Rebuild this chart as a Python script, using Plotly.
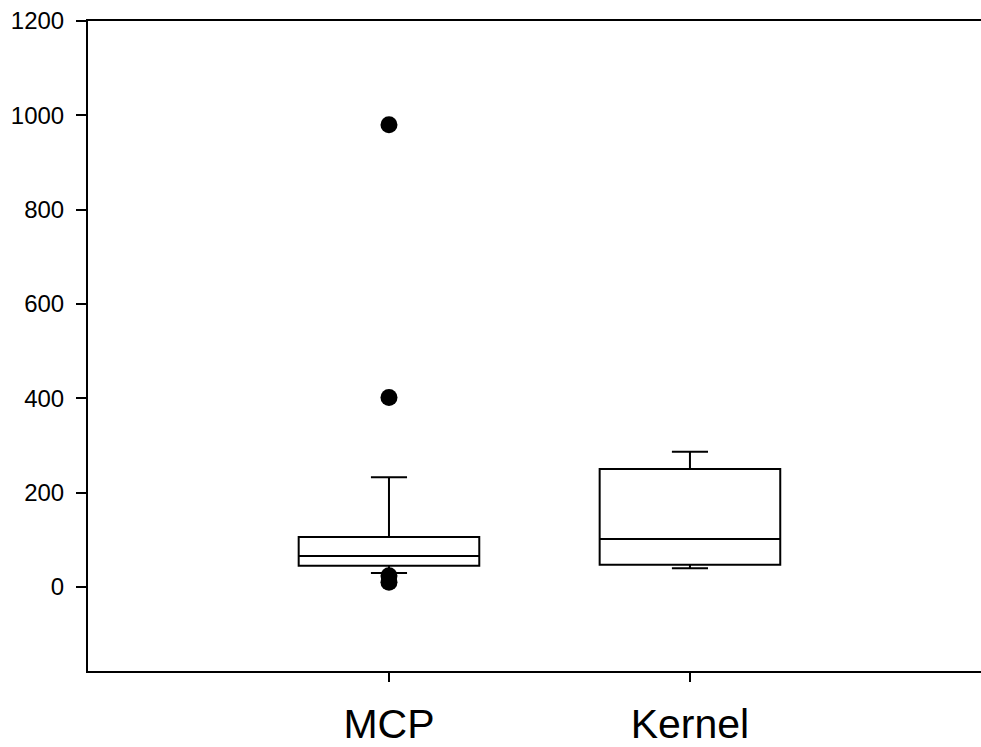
import plotly.graph_objects as go

categories = ["MCP", "Kernel"]
q1 = [45, 47]
median = [66, 102]
q3 = [106, 250]
lower_whisker = [30, 40]
upper_whisker = [233, 287]
outlier_cat = ["MCP", "MCP", "MCP", "MCP"]
outlier_vals = [980, 402, 24, 10]
y_ticks = [0, 200, 400, 600, 800, 1000, 1200]

fig = go.Figure()
fig.add_trace(go.Box(
    x=categories, q1=q1, median=median, q3=q3,
    lowerfence=lower_whisker, upperfence=upper_whisker,
    width=0.6, whiskerwidth=0.2,
    line=dict(color="black", width=2), fillcolor="white",
    boxpoints=False, hoverinfo="skip", showlegend=False,
))
fig.add_trace(go.Scatter(
    x=outlier_cat, y=outlier_vals, mode="markers",
    marker=dict(color="black", size=17, symbol="circle"),
    showlegend=False,
))

fig.update_layout(
    width=981, height=747,
    margin=dict(l=88, r=0, t=21, b=76),
    plot_bgcolor="white", paper_bgcolor="white",
    font=dict(family="Liberation Sans, Arial", color="black"),
)
fig.update_xaxes(
    type="category", categoryorder="array", categoryarray=categories,
    range=[-1, 1.967], automargin=False,
    showline=True, linecolor="black", linewidth=2, mirror=True,
    ticks="outside", ticklen=9, tickwidth=2, tickcolor="black",
    showgrid=False, zeroline=False,
    tickfont=dict(size=41), ticklabelstandoff=7,
)
fig.update_yaxes(
    range=[-178, 1200], tickvals=y_ticks, automargin=False,
    showline=True, linecolor="black", linewidth=2,
    ticks="outside", ticklen=10, tickwidth=2, tickcolor="black",
    showgrid=False, zeroline=False,
    tickfont=dict(size=24), ticklabelstandoff=7,
)

fig.write_html("out.html")
